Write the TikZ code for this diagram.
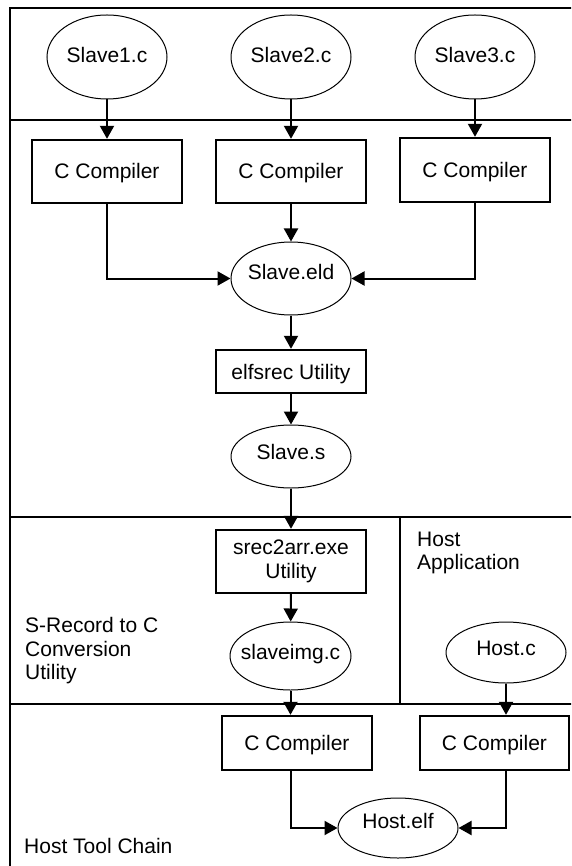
\documentclass[tikz,border=0pt]{standalone}
\usepackage{fontspec}
\setmainfont{Liberation Sans}
\usetikzlibrary{arrows.meta,shapes.geometric}
\begin{document}
\begin{tikzpicture}[x=1pt,y=-1pt,
  txt/.style={font=\fontsize{21}{23.5}\selectfont},
  ell/.style={draw,ellipse,line width=1pt,inner sep=0pt,minimum width=120pt},
  etxt/.style={txt,inner sep=0pt,text height=15pt,text depth=0pt},
  box/.style={draw,line width=2.4pt,inner sep=0pt,minimum width=150pt,txt,text height=15pt,text depth=0pt},
  arr/.style={line width=2pt,-{Triangle[length=13pt,width=14pt]}},
  sec/.style={line width=2.8pt},
  note/.style={txt,align=left,anchor=north west,inner sep=0pt}]
\path[use as bounding box,clip] (0,0) rectangle (571,866);
% frame and section lines
\draw[sec] (10,8) rectangle (595,895);
\draw[sec] (10,120) -- (595,120);
\draw[sec] (10,517) -- (595,517);
\draw[sec] (10,704) -- (595,704);
\draw[sec] (400,517) -- (400,704);
% source files
\node[ell,minimum height=84pt] (s1) at (107,57) {};
\node[etxt] (s1t) at (107,55) {Slave1.c};
\node[ell,minimum height=84pt] (s2) at (291,57) {};
\node[etxt] (s2t) at (291,55) {Slave2.c};
\node[ell,minimum height=84pt] (s3) at (475,57) {};
\node[etxt] (s3t) at (475,55) {Slave3.c};
% compilers
\node[box,minimum height=63pt] (c1) at (107,171.5) {C Compiler};
\node[box,minimum height=63pt] (c2) at (291,171.5) {C Compiler};
\node[box,minimum height=64pt] (c3) at (475,170) {C Compiler};
% slave chain
\node[ell,minimum height=73pt] (eld) at (291,278.5) {};
\node[etxt] (eldt) at (291,272) {Slave.eld};
\node[box,minimum height=43pt] (elfs) at (291,371.5) {elfsrec Utility};
\node[ell,minimum height=63pt] (ss) at (291,456.5) {};
\node[etxt] (sst) at (291,452) {Slave.s};
\node[box,minimum height=63pt,align=center,text height=,text depth=] (srec) at (291,561.5) {srec2arr.exe\\Utility};
\node[ell,minimum height=68pt,minimum width=121pt] (simg) at (290.5,656) {};
\node[etxt] (simgt) at (290.5,652) {slaveimg.c};
\node[ell,minimum height=61pt] (hostc) at (506,652.5) {};
\node[etxt] (hostct) at (506,648) {Host.c};
% host tool chain
\node[box,minimum height=54pt] (hc1) at (297,743) {C Compiler};
\node[box,minimum height=54pt,minimum width=149pt] (hc2) at (494.5,743) {C Compiler};
\node[ell,minimum height=60pt] (helf) at (398,828) {};
\node[etxt] (helft) at (398,821) {Host.elf};
% labels
\node[note] (lhost) at (417,531.5) {Host\\Application};
\node[note] (lsrec) at (25,617.5) {S-Record to C\\Conversion\\Utility};
\node[note] (lchain) at (24,838.5) {Host Tool Chain};
% connectors
\draw[arr] (s1) -- (c1);
\draw[arr] (s2) -- (c2);
\draw[arr] (s3) -- (c3);
\draw[arr] (c1.south) |- (eld.west);
\draw[arr] (c2) -- (eld);
\draw[arr] (c3.south) |- (eld.east);
\draw[arr] (eld) -- (elfs);
\draw[arr] (elfs) -- (ss);
\draw[arr] (ss) -- (srec);
\draw[arr] (srec) -- (simg);
\draw[arr] (simg.south) -- (simg.south |- hc1.north);
\draw[arr] (hostc.south) -- (hostc.south |- hc2.north);
\draw[arr] (simg.south |- hc1.south) |- (helf.west);
\draw[arr] (hostc.south |- hc2.south) |- (helf.east);
\end{tikzpicture}
\end{document}
